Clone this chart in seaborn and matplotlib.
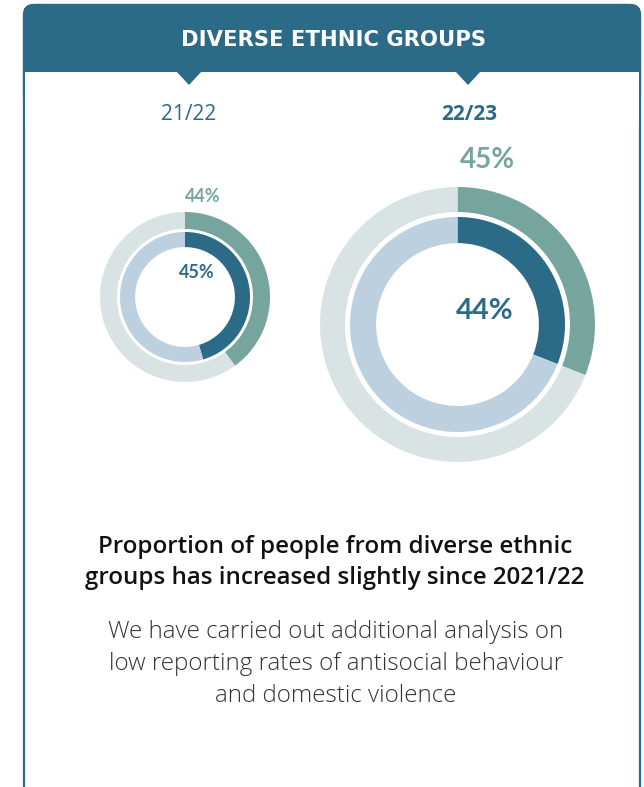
"""
Diverse ethnic groups infographic: two nested donuts (21/22 vs 22/23).
"""

import matplotlib
matplotlib.use("Agg")
import matplotlib.pyplot as plt
from matplotlib.patches import FancyBboxPatch, Rectangle, Polygon
import seaborn as sns

# -- Data ------------------------------------------------------------------
years = ["21/22", "22/23"]
outer_labels = ["44%", "45%"]          # printed outer-ring values
inner_labels = ["45%", "44%"]          # printed inner-ring values
outer_share = [0.40, 0.31]             # arc lengths as drawn in the picture
inner_share = [0.455, 0.31]

title = "DIVERSE ETHNIC GROUPS"
headline = ["Proportion of people from diverse ethnic",
            "groups has increased slightly since 2021/22"]
body = ["We have carried out additional analysis on",
        "low reporting rates of antisocial behaviour",
        "and domestic violence"]

# -- Style -----------------------------------------------------------------
sns.set_theme(style="white")
plt.rcParams["font.family"] = ["Open Sans", "DejaVu Sans"]

teal_dark = "#2C6B87"
teal_green = "#76A59E"
grey_light = "#DAE3E3"
blue_light = "#BDD0DF"

W, H = 644, 787
fig = plt.figure(figsize=(W / 100, H / 100), dpi=100)
bg = fig.add_axes([0, 0, 1, 1])
bg.set_xlim(0, W)
bg.set_ylim(H, 0)
bg.axis("off")

# -- Card and header -------------------------------------------------------
left, right, top = 24, 640, 5
bg.add_patch(FancyBboxPatch((left, top), right - left, 900,
                            boxstyle="round,pad=0,rounding_size=10",
                            facecolor="white", edgecolor=teal_dark, lw=1.6,
                            zorder=1))
bg.add_patch(FancyBboxPatch((left, top), right - left, 100,
                            boxstyle="round,pad=0,rounding_size=10",
                            facecolor=teal_dark, edgecolor=teal_dark, lw=1.6,
                            zorder=2))
bg.add_patch(Rectangle((left + 1.2, 72), right - left - 2.4, 50,
                       facecolor="white", edgecolor="none", zorder=3))
for cx in (189, 468):
    bg.add_patch(Polygon([(cx - 13, 71), (cx + 13, 71), (cx, 85)],
                         closed=True, facecolor=teal_dark, edgecolor="none",
                         zorder=4))

bg.text(334, 40, title, color="white", fontsize=15.2, fontweight="bold",
        ha="center", va="center", family=["DejaVu Sans"], zorder=5)

bg.text(189, 114, years[0], color=teal_dark, fontsize=15,
        ha="center", va="center", zorder=5)
bg.text(469, 114, years[1], color=teal_dark, fontsize=15,
        fontweight="bold", ha="center", va="center", zorder=5)

# -- Donuts ----------------------------------------------------------------
# (centre x, centre y, outer radius) in pixels, plus ring geometry
donuts = [
    dict(cx=185, cy=297, r=85, ow=0.20, ir=0.765, iw=0.178),
    dict(cx=457.5, cy=324.5, r=137.5, ow=0.182, ir=0.782, iw=0.19),
]
for i, d in enumerate(donuts):
    ax = fig.add_axes([(d["cx"] - d["r"]) / W, (H - d["cy"] - d["r"]) / H,
                       2 * d["r"] / W, 2 * d["r"] / H])
    ax.pie([outer_share[i], 1 - outer_share[i]], radius=1,
           colors=[teal_green, grey_light], startangle=90, counterclock=False,
           wedgeprops=dict(width=d["ow"], edgecolor="none"))
    ax.pie([inner_share[i], 1 - inner_share[i]], radius=d["ir"],
           colors=[teal_dark, blue_light], startangle=90, counterclock=False,
           wedgeprops=dict(width=d["iw"], edgecolor="none"))
    ax.set_xlim(-1, 1)
    ax.set_ylim(-1, 1)
    ax.set_aspect("auto")
    ax.axis("off")

lab_font = ["Lato", "DejaVu Sans"]
bg.text(203, 197, outer_labels[0], color=teal_green, fontsize=13,
        fontweight="bold", ha="center", va="center", family=lab_font)
bg.text(197, 272, inner_labels[0], color=teal_dark, fontsize=13,
        fontweight="bold", ha="center", va="center", family=lab_font)
bg.text(487, 160, outer_labels[1], color=teal_green, fontsize=20,
        fontweight="bold", ha="center", va="center", family=lab_font)
bg.text(485, 311, inner_labels[1], color=teal_dark, fontsize=21,
        fontweight="bold", ha="center", va="center", family=lab_font)

# -- Text ------------------------------------------------------------------
for j, line in enumerate(headline):
    bg.text(335, 547 + j * 31, line, color="#111111", fontsize=17.4,
            fontweight="semibold", ha="center", va="center")
for j, line in enumerate(body):
    bg.text(336, 632 + j * 32, line, color="#333333", fontsize=17.4,
            fontweight="light", ha="center", va="center")

fig.savefig("out.png", dpi=100)
